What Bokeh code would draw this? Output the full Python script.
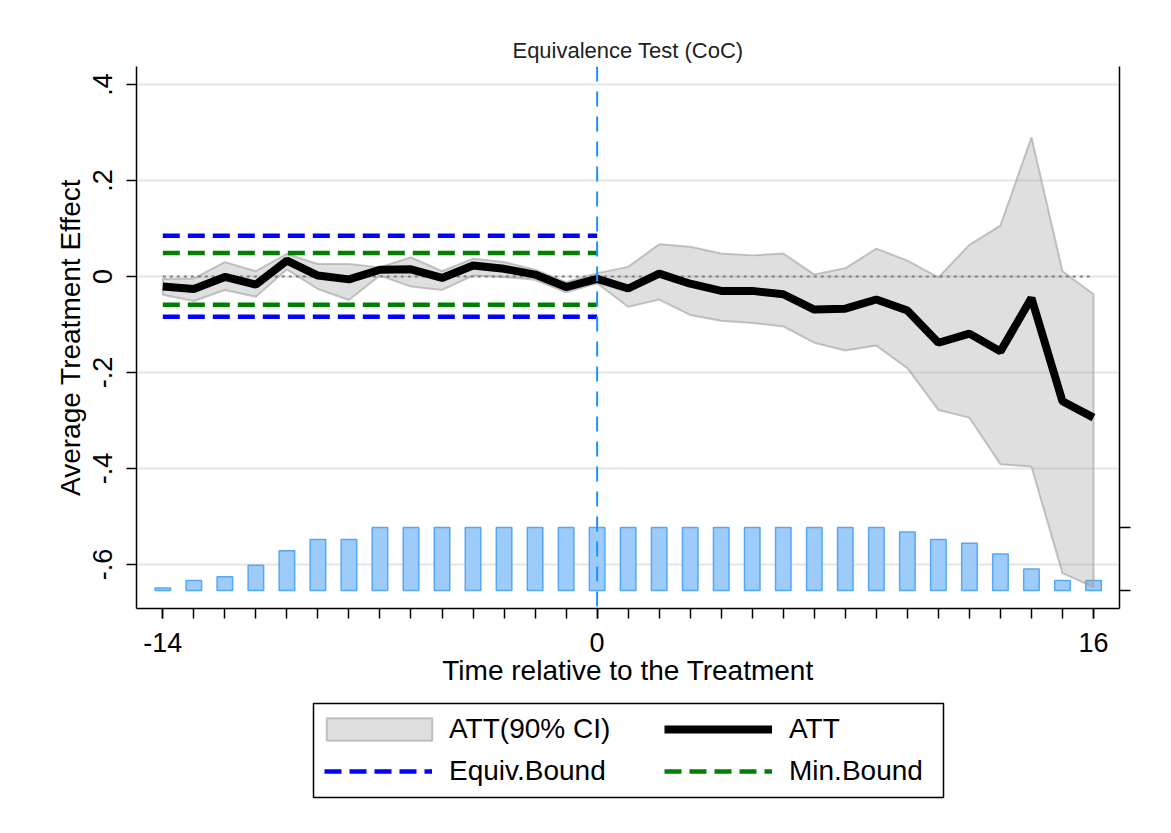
from bokeh.plotting import figure
from bokeh.layouts import column
from bokeh.models import (Range1d, LinearAxis, FixedTicker, Span, Legend,
                          LegendItem, BoxAnnotation)
from bokeh.embed import file_html
from bokeh.resources import INLINE

# ---------------- data ----------------
t = list(range(-14, 17))
att = [-0.021, -0.026, -0.001, -0.017, 0.033, 0.002, -0.006, 0.014, 0.015,
       -0.003, 0.023, 0.016, 0.004, -0.022, -0.005,
       -0.025, 0.006, -0.015, -0.030, -0.030, -0.037, -0.069, -0.067, -0.048,
       -0.071, -0.138, -0.119, -0.156, -0.045, -0.260, -0.294]
ci_upper = [-0.005, -0.004, 0.030, 0.011, 0.047, 0.026, 0.026, 0.019, 0.040,
            0.011, 0.037, 0.030, 0.014, -0.012, 0.007,
            0.020, 0.067, 0.062, 0.048, 0.044, 0.048, 0.004, 0.017, 0.058,
            0.033, -0.002, 0.066, 0.106, 0.290, 0.011, -0.037]
ci_lower = [-0.038, -0.051, -0.028, -0.042, 0.015, -0.026, -0.049, 0.002,
            -0.021, -0.028, 0.002, -0.001, -0.007, -0.033, -0.014,
            -0.063, -0.048, -0.080, -0.092, -0.097, -0.104, -0.138, -0.154,
            -0.144, -0.191, -0.278, -0.294, -0.391, -0.396, -0.618, -0.647]
share = [0.04, 0.16, 0.22, 0.40, 0.63, 0.81, 0.81, 1, 1, 1, 1, 1, 1, 1, 1,
         1, 1, 1, 1, 1, 1, 1, 1, 1, 0.93, 0.81, 0.75, 0.58, 0.34, 0.16, 0.16]
pre_period = [-14, 0]
equiv_bound = [-0.084, 0.085]
min_bound = [-0.059, 0.049]
y_ticks = [-0.6, -0.4, -0.2, 0.0, 0.2, 0.4]
y_tick_labels = ["-.6", "-.4", "-.2", "0", ".2", ".4"]
x_ticks = [-14, 0, 16]
x_tick_labels = ["-14", "0", "16"]
bar_ticks = [0, 1]
legend_labels = ["ATT(90% CI)", "ATT", "Equiv.Bound", "Min.Bound"]
title_text = "Equivalence Test (CoC)"
x_title = "Time relative to the Treatment"
y_title = "Average Treatment Effect"

FONT = "Liberation Sans"

# ---------------- styles ----------------
BAND = dict(fill_color="#9E9E9E", fill_alpha=0.33, line_color="#A0A0A0",
            line_alpha=0.6, line_width=2)
ATT_STYLE = dict(line_color="black", line_width=8)
EQ_STYLE = dict(line_color="#0000FF", line_dash="17 8", line_width=4.5)
MN_STYLE = dict(line_color="#008000", line_dash="17 8", line_width=4.5)

W = 1165
H1 = 700
FR_L, FR_R = 136, 1119
p = figure(width=W, height=H1, output_backend="svg", toolbar_location=None,
           x_range=Range1d(-14.848, 16.838), y_range=Range1d(-0.6917, 0.4375),
           min_border_left=FR_L, min_border_right=W - FR_R, min_border_top=66,
           min_border_bottom=H1 - 608, title=title_text)
p.outline_line_color = None
p.background_fill_color = "white"
p.border_fill_color = "white"

p.extra_y_ranges = {"bars": Range1d(-0.2857, 8.317)}

# bars (share of units)
p.vbar(x=t, top=share, bottom=0, width=0.5, y_range_name="bars",
       fill_color="#9DCCFA", line_color="#55A8F5", line_width=1.5)

# CI band
poly_x = t + t[::-1]
poly_y = ci_upper + ci_lower[::-1]
p.patch(poly_x, poly_y, **BAND)

# zero reference
p.segment(x0=t[0], y0=0, x1=t[-1], y1=0, line_color="#808080",
          line_dash="3 4", line_width=2)

# bounds
bx = [pre_period, pre_period]
p.multi_line(xs=bx, ys=[[b, b] for b in equiv_bound], **EQ_STYLE)
p.multi_line(xs=bx, ys=[[b, b] for b in min_bound], **MN_STYLE)

# ATT
p.line(t, att, **ATT_STYLE)

p.add_layout(Span(location=0, dimension="height", line_color="#1E90FF",
                  line_dash="15 10", line_width=2))

# axes
xa = p.xaxis[0]
xa.ticker = FixedTicker(ticks=x_ticks, minor_ticks=t)
xa.major_label_overrides = dict(zip(x_ticks, x_tick_labels))
xa.axis_label = x_title
ya = p.yaxis[0]
ya.ticker = FixedTicker(ticks=y_ticks)
ya.major_label_overrides = dict(zip(y_ticks, y_tick_labels))
ya.major_label_orientation = "vertical"
ya.axis_label = y_title

ra = LinearAxis(y_range_name="bars", ticker=FixedTicker(ticks=bar_ticks),
                major_label_overrides={v: "" for v in bar_ticks})
p.add_layout(ra, "right")

for ax in (xa, ya, ra):
    ax.axis_line_color = "black"
    ax.axis_line_width = 1.5
    ax.major_tick_line_color = "black"
    ax.major_tick_line_width = 1.5
    ax.major_tick_in = 0
    ax.major_tick_out = 10
    ax.minor_tick_line_color = "black"
    ax.minor_tick_line_width = 1.5
    ax.minor_tick_in = 0
    ax.minor_tick_out = 10
    ax.major_label_text_font = FONT
    ax.major_label_text_font_size = "27px"
    ax.major_label_text_color = "black"
    ax.axis_label_text_font = FONT
    ax.axis_label_text_font_size = "28px"
    ax.axis_label_text_font_style = "normal"
    ax.axis_label_text_color = "black"
ra.minor_tick_out = 0
ra.major_tick_out = 11
xa.major_label_standoff = 14
xa.axis_label_standoff = 0
ya.major_label_standoff = 14
ya.axis_label_standoff = 5

p.xgrid.visible = False
p.ygrid.grid_line_color = "#E5E5E5"
p.ygrid.grid_line_width = 2

p.title.align = "center"
p.title.text_font = FONT
p.title.text_font_size = "22px"
p.title.text_font_style = "normal"
p.title.text_color = "#222222"
p.title.standoff = 8

# ---------------- legend panel ----------------
H2 = 127
LEG_L, LEG_R, LEG_T, LEG_B = 313, 943, 703, 797
# ranges in page pixels so that the key box can be placed directly
p2 = figure(width=W, height=H2, output_backend="svg", toolbar_location=None,
            x_range=Range1d(FR_L, FR_R), y_range=Range1d(H1 + H2, H1),
            x_axis_type=None, y_axis_type=None,
            min_border_left=FR_L, min_border_right=W - FR_R,
            min_border_top=0, min_border_bottom=0)
p2.outline_line_color = None
p2.background_fill_color = "white"
p2.border_fill_color = "white"
for g in p2.grid:
    g.visible = False

p2.add_layout(BoxAnnotation(left=LEG_L, right=LEG_R, top=LEG_T, bottom=LEG_B,
                            fill_alpha=0, line_color="black", line_width=1.5,
                            line_alpha=1))

# key renderers (their data lie outside this panel's view)
k_band = p2.patch(poly_x, poly_y, **BAND)
k_att = p2.line(t, att, **ATT_STYLE)
k_eq = p2.multi_line(xs=bx, ys=[[b, b] for b in equiv_bound], **EQ_STYLE)
k_mn = p2.multi_line(xs=bx, ys=[[b, b] for b in min_bound], **MN_STYLE)

common = dict(orientation="vertical", padding=0, margin=0, spacing=0,
              border_line_color=None, background_fill_alpha=0,
              label_text_font=FONT, label_text_font_size="28px",
              label_text_color="black", glyph_height=28)
PB = H1 + H2
# (renderer, label, page x, page bottom, glyph width, standoff)
spec = [
    (k_band, legend_labels[0], 313, 745, 132, 4),
    (k_att, legend_labels[1], 664, 745, 108, 17),
    (k_eq, legend_labels[2], 324, 787, 108, 17),
    (k_mn, legend_labels[3], 664, 787, 108, 17),
]
for r, lab, px, pb, gw, so in spec:
    p2.add_layout(Legend(items=[LegendItem(label=lab, renderers=[r])],
                         location=(px - FR_L, PB - pb), glyph_width=gw,
                         label_standoff=so, **common))

layout = column(p, p2, spacing=0)
open("out.html", "w").write(file_html(layout, INLINE))
